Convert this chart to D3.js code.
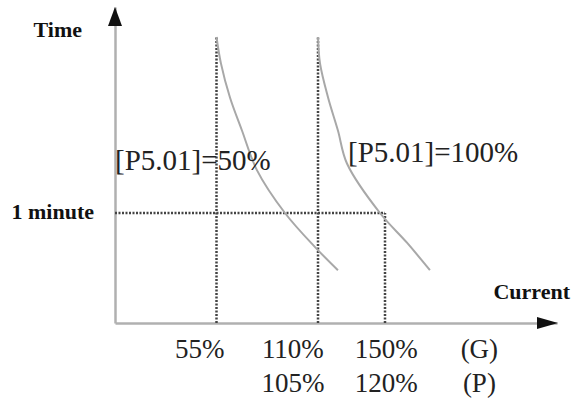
<!DOCTYPE html>
<html>
<head>
<meta charset="utf-8">
<script src="https://cdn.jsdelivr.net/npm/d3@7"></script>
<style>
  body { margin: 0; background: #fff; }
  svg { display: block; font-family: "Liberation Serif", "Times New Roman", serif; }
</style>
</head>
<body>
<div class="chart"></div>
<script>
// current (% of rated, G type) and time (minutes) for the two curves
const curve50 = [[55, 2.6], [57.4, 2.36], [62.3, 2.05], [68.8, 1.75], [76.9, 1.39], [92.1, 1.0], [108.4, 0.69], [121.9, 0.48]];
const curve100 = [[110, 2.6], [111.2, 2.36], [116, 2.05], [121.9, 1.75], [127.3, 1.45], [147, 1.0], [161.5, 0.73], [173.5, 0.48]];
const curveLabels = ["[P5.01]=50%", "[P5.01]=100%"];

// guide lines
const guideX = [55, 110, 150];
const guideTop = [2.6, 2.6, 1];
const oneMinute = 1;

// tick label columns
const columns = ["55%", "110%", "150%", "(G)"];
const rowG = ["55%", "110%", "150%", "(G)"];
const rowP = ["", "105%", "120%", "(P)"];

const w = 575, h = 400;

// set scale
const x = d3.scaleLinear()
    .domain([0, 110, 150, 240])
    .range([115, 318, 385, 557]);

const y = d3.scaleLinear()
    .domain([0, 1])
    .range([323, 213]);

const col = d3.scalePoint()
    .domain(columns)
    .range([153, 526])
    .padding(0.5);

const svg = d3.select("div.chart")
    .append("svg")
    .attr("width", w)
    .attr("height", h);

// axes, no ticks
const xAxis = d3.axisBottom(x).tickValues([]).tickSizeOuter(0);
svg.append("g")
    .attr("transform", "translate(0," + y(0) + ")")
    .call(xAxis)
    .select(".domain")
    .attr("stroke", "#b0b0b0")
    .attr("stroke-width", 2.5);

const yAxis = d3.axisLeft(y.copy().domain([0, 2.87]).range([323, 7])).tickValues([]).tickSizeOuter(0);
svg.append("g")
    .attr("transform", "translate(" + x(0) + ",0)")
    .call(yAxis)
    .select(".domain")
    .attr("stroke", "#b0b0b0")
    .attr("stroke-width", 2.5);

// arrow heads
svg.append("path")
    .attr("d", "M" + x(0) + ",7 L" + (x(0) - 7) + ",26 L" + (x(0) + 7) + ",26 Z")
    .attr("fill", "#111");
svg.append("path")
    .attr("d", "M558," + y(0) + " L537," + (y(0) - 6) + " L537," + (y(0) + 6) + " Z")
    .attr("fill", "#111");

// dotted guides
svg.selectAll("line.guide")
    .data(guideX)
    .enter()
    .append("line")
    .attr("class", "guide")
    .attr("x1", d => x(d))
    .attr("x2", d => x(d))
    .attr("y1", y(0))
    .attr("y2", (d, i) => y(guideTop[i]))
    .attr("stroke", "#444")
    .attr("stroke-width", 2.5)
    .attr("stroke-dasharray", "2,1.5");

svg.append("line")
    .attr("x1", x(0))
    .attr("x2", x(150))
    .attr("y1", y(oneMinute))
    .attr("y2", y(oneMinute))
    .attr("stroke", "#444")
    .attr("stroke-width", 2.5)
    .attr("stroke-dasharray", "2,1.5");

// curves
const line = d3.line()
    .x(d => x(d[0]))
    .y(d => y(d[1]))
    .curve(d3.curveCatmullRom);

svg.selectAll("path.curve")
    .data([curve50, curve100])
    .enter()
    .append("path")
    .attr("class", "curve")
    .attr("d", line)
    .attr("fill", "none")
    .attr("stroke", "#a8a8a8")
    .attr("stroke-width", 2);

// axis titles
svg.append("text")
    .attr("x", x(0) - 33)
    .attr("y", 37)
    .attr("text-anchor", "end")
    .attr("font-weight", "bold")
    .attr("font-size", 22)
    .attr("fill", "#111")
    .text("Time");

svg.append("text")
    .attr("x", x(0) - 21)
    .attr("y", y(oneMinute) + 6)
    .attr("text-anchor", "end")
    .attr("font-weight", "bold")
    .attr("font-size", 22)
    .attr("fill", "#111")
    .text("1 minute");

svg.append("text")
    .attr("x", 570)
    .attr("y", y(0) - 24)
    .attr("text-anchor", "end")
    .attr("font-weight", "bold")
    .attr("font-size", 22)
    .attr("fill", "#111")
    .text("Current");

// curve labels
svg.append("text")
    .attr("x", x(0))
    .attr("y", 170)
    .attr("font-size", 29)
    .attr("fill", "#222")
    .text(curveLabels[0]);

svg.append("text")
    .attr("x", 348)
    .attr("y", 162)
    .attr("font-size", 29)
    .attr("fill", "#222")
    .text(curveLabels[1]);

// tick label rows
[rowG, rowP].forEach((row, r) => {
    svg.selectAll("text.row" + r)
        .data(row)
        .enter()
        .append("text")
        .attr("class", "row" + r)
        .attr("x", (d, i) => col(columns[i]))
        .attr("y", r === 0 ? 358 : 392)
        .attr("text-anchor", "middle")
        .attr("font-size", 27)
        .attr("fill", "#222")
        .text(d => d);
});
</script>
</body>
</html>
